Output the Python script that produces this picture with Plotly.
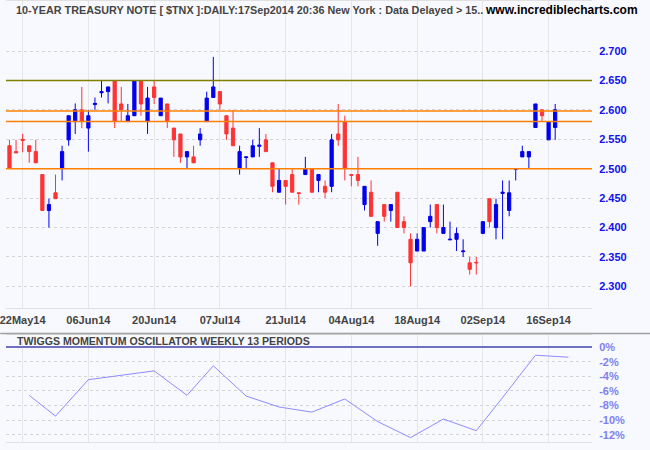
import pandas as pd
import plotly.graph_objects as go

# ---------------- data ----------------
holidays = ["2014-05-26", "2014-07-04", "2014-09-01"]
calendar = [d.strftime("%Y-%m-%d") for d in pd.bdate_range("2014-05-20", "2014-09-30")
            if d.strftime("%Y-%m-%d") not in holidays]

opens = [2.539, 2.529, 2.550, 2.539, 2.529, 2.490, 2.429, 2.459, 2.500, 2.549,
         2.580, 2.600, 2.569, 2.609, 2.629, 2.631, 2.649, 2.610, 2.580, 2.590,
         2.649, 2.580, 2.639, 2.590, 2.610, 2.569, 2.559, 2.520, 2.520, 2.549,
         2.580, 2.621, 2.631, 2.590, 2.569, 2.500, 2.519, 2.520, 2.538, 2.549,
         2.510, 2.460, 2.480, 2.490, 2.459, 2.490, 2.500, 2.480, 2.470, 2.470,
         2.559, 2.580, 2.490, 2.490, 2.439, 2.460, 2.390, 2.439, 2.429, 2.460,
         2.410, 2.380, 2.360, 2.360, 2.410, 2.439, 2.390, 2.379, 2.380, 2.359,
         2.340, 2.341, 2.390, 2.449, 2.400, 2.458, 2.429, 2.499, 2.520, 2.520,
         2.570, 2.600, 2.549, 2.570]
highs = [2.549, 2.549, 2.559, 2.539, 2.549, 2.490, 2.449, 2.490, 2.539, 2.590,
         2.611, 2.639, 2.600, 2.621, 2.649, 2.639, 2.649, 2.639, 2.610, 2.649,
         2.649, 2.639, 2.649, 2.620, 2.610, 2.569, 2.559, 2.529, 2.539, 2.569,
         2.631, 2.690, 2.631, 2.590, 2.600, 2.539, 2.520, 2.549, 2.569, 2.559,
         2.510, 2.500, 2.480, 2.500, 2.459, 2.520, 2.500, 2.490, 2.480, 2.559,
         2.610, 2.590, 2.490, 2.520, 2.470, 2.480, 2.410, 2.439, 2.439, 2.460,
         2.419, 2.390, 2.390, 2.400, 2.439, 2.439, 2.439, 2.410, 2.400, 2.380,
         2.350, 2.350, 2.410, 2.449, 2.449, 2.480, 2.480, 2.500, 2.539, 2.529,
         2.610, 2.600, 2.580, 2.610]
lows = [2.500, 2.527, 2.528, 2.510, 2.510, 2.429, 2.400, 2.449, 2.480, 2.539,
        2.559, 2.569, 2.529, 2.600, 2.621, 2.611, 2.569, 2.580, 2.580, 2.590,
        2.590, 2.559, 2.610, 2.590, 2.569, 2.520, 2.510, 2.500, 2.510, 2.539,
        2.580, 2.621, 2.600, 2.549, 2.539, 2.490, 2.500, 2.520, 2.520, 2.529,
        2.460, 2.460, 2.439, 2.460, 2.439, 2.490, 2.460, 2.460, 2.450, 2.460,
        2.539, 2.480, 2.470, 2.470, 2.429, 2.419, 2.369, 2.410, 2.410, 2.400,
        2.390, 2.300, 2.360, 2.360, 2.400, 2.390, 2.390, 2.379, 2.360, 2.350,
        2.320, 2.320, 2.390, 2.400, 2.380, 2.380, 2.419, 2.480, 2.520, 2.500,
        2.570, 2.580, 2.549, 2.549]
closes = [2.501, 2.527, 2.548, 2.529, 2.510, 2.429, 2.439, 2.449, 2.529, 2.590,
          2.600, 2.580, 2.590, 2.611, 2.631, 2.639, 2.580, 2.600, 2.590, 2.649,
          2.610, 2.620, 2.621, 2.620, 2.580, 2.549, 2.520, 2.529, 2.510, 2.559,
          2.620, 2.639, 2.610, 2.559, 2.539, 2.529, 2.520, 2.539, 2.540, 2.529,
          2.470, 2.480, 2.470, 2.460, 2.458, 2.500, 2.460, 2.490, 2.460, 2.549,
          2.549, 2.500, 2.489, 2.480, 2.470, 2.419, 2.410, 2.419, 2.439, 2.400,
          2.400, 2.340, 2.380, 2.400, 2.419, 2.400, 2.400, 2.380, 2.390, 2.360,
          2.329, 2.340, 2.410, 2.410, 2.439, 2.460, 2.459, 2.500, 2.529, 2.529,
          2.610, 2.590, 2.580, 2.600]

tick_dates = ["2014-05-22", "2014-06-06", "2014-06-20", "2014-07-07", "2014-07-21",
              "2014-08-04", "2014-08-18", "2014-09-02", "2014-09-16"]
tick_labels = ["22May14", "06Jun14", "20Jun14", "07Jul14", "21Jul14",
               "04Aug14", "18Aug14", "02Sep14", "16Sep14"]

price_ticks = [2.300, 2.350, 2.400, 2.450, 2.500, 2.550, 2.600, 2.650, 2.700]

level_values = [2.650, 2.598, 2.580, 2.500]
level_colors = ["#808000", "#ff8000", "#ff8000", "#ff8000"]

weekly_dates = ["2014-05-23", "2014-05-30", "2014-06-06", "2014-06-13", "2014-06-20",
                "2014-06-27", "2014-07-03", "2014-07-11", "2014-07-18", "2014-07-25",
                "2014-08-01", "2014-08-08", "2014-08-15", "2014-08-22", "2014-08-29",
                "2014-09-05", "2014-09-12", "2014-09-19"]
weekly_momentum = [-6.6, -9.45, -4.45, -3.85, -3.25, -6.6, -2.55, -6.7, -8.2, -8.9,
                   -7.1, -10.2, -12.4, -9.85, -11.45, -6.9, -1.1, -1.37]

osc_ticks = [0, -2, -4, -6, -8, -10, -12]
osc_labels = ["0%", "-2%", "-4%", "-6%", "-8%", "-10%", "-12%"]

# ---------------- figure ----------------
pos = {d: i for i, d in enumerate(calendar)}
candle_x = list(range(len(opens)))
weekly_x = [pos[d] for d in weekly_dates]
tick_x = [pos[d] for d in tick_dates]

FONT = "Liberation Sans, Arial, sans-serif"
BG = "#f8f9fe"
H = 442.0  # plot-area height in px (t=0, b=8)

fig = go.Figure()
fig.add_trace(go.Candlestick(
    x=candle_x, open=opens, high=highs, low=lows, close=closes,
    increasing=dict(line=dict(color="#0000ee", width=1), fillcolor="#0000ee"),
    decreasing=dict(line=dict(color="#ff3333", width=1), fillcolor="#ff3333"),
    whiskerwidth=0, hoverinfo="skip", showlegend=False,
    xaxis="x", yaxis="y"))

fig.add_trace(go.Scatter(
    x=weekly_x, y=weekly_momentum, mode="lines",
    line=dict(color="#8c8cff", width=1), hoverinfo="skip", showlegend=False,
    xaxis="x2", yaxis="y2"))

for v, c in zip(level_values, level_colors):
    fig.add_shape(type="line", xref="x domain", yref="y", x0=0, x1=1, y0=v, y1=v,
                  line=dict(color=c, width=1.5))

# separator between panels
fig.add_shape(type="line", xref="paper", yref="paper", x0=-0.01, x1=1.11,
              y0=1 - 333.3 / H, y1=1 - 333.3 / H, line=dict(color="#a0a0a0", width=1.5))

xr = [-0.53, 88.6]
common_x = dict(range=xr, showgrid=True, gridcolor="#e6e6e6", gridwidth=1,
                tickvals=tick_x, zeroline=False, showline=True, linecolor="#e0e0e0",
                mirror=True, fixedrange=True)

fig.update_layout(
    width=650, height=450,
    margin=dict(l=4, r=58, t=0, b=8),
    paper_bgcolor=BG, plot_bgcolor=BG,
    hovermode=False,
    xaxis=dict(**common_x, domain=[0, 1], anchor="y", ticktext=tick_labels,
               ticks="outside", ticklen=1, tickcolor="rgba(0,0,0,0)",
               ticklabeloverflow="allow",
               tickfont=dict(family=FONT, size=11, color="#444444", weight="bold"),
               rangeslider=dict(visible=False)),
    yaxis=dict(domain=[1 - 308 / H, 1], range=[2.2627, 2.785], side="right",
               tickvals=price_ticks, tickformat=".3f", showgrid=True,
               gridcolor="#d4d4d4", griddash="dot", zeroline=False,
               ticks="outside", ticklen=4, tickcolor="rgba(0,0,0,0)",
               tickfont=dict(family=FONT, size=11, color="#1010f0", weight="bold"),
               showline=False, fixedrange=True),
    xaxis2=dict(**common_x, domain=[0, 1], anchor="y2", showticklabels=False, ticktext=tick_labels),
    yaxis2=dict(domain=[0, 1 - 335 / H], range=[-13.0, 1.64], side="right",
                tickvals=osc_ticks, ticktext=osc_labels, showgrid=True,
                gridcolor="#d4d4d4", griddash="dot",
                zeroline=True, zerolinecolor="#7070c0", zerolinewidth=1.5,
                ticks="outside", ticklen=4, tickcolor="rgba(0,0,0,0)",
                tickfont=dict(family=FONT, size=11, color="#8080f0", weight="bold"),
                showline=False, fixedrange=True),
)

fig.add_annotation(xref="paper", yref="paper", x=(12 - 4) / 588, y=1 - 9 / H,
                   xanchor="left", yanchor="middle", showarrow=False,
                   text="10-YEAR TREASURY NOTE [ $TNX ]:DAILY:17Sep2014 20:36 New York : Data Delayed > 15..",
                   font=dict(family=FONT, size=10.8, color="#444444", weight="bold"))
fig.add_annotation(xref="paper", yref="paper", x=(640 - 4) / 588, y=1 - 9 / H,
                   xanchor="right", yanchor="middle", showarrow=False,
                   text="www.incrediblecharts.com",
                   font=dict(family=FONT, size=12, color="#000000", weight="bold"))
fig.add_annotation(xref="paper", yref="paper", x=(13 - 4) / 588, y=1 - 341 / H,
                   xanchor="left", yanchor="middle", showarrow=False,
                   text="TWIGGS MOMENTUM OSCILLATOR WEEKLY 13 PERIODS",
                   font=dict(family=FONT, size=10.6, color="#444444", weight="bold"))

fig.write_html("out.html", config={"displayModeBar": False},
               post_script="document.body.style.margin='0px';document.body.style.overflow='hidden';")
